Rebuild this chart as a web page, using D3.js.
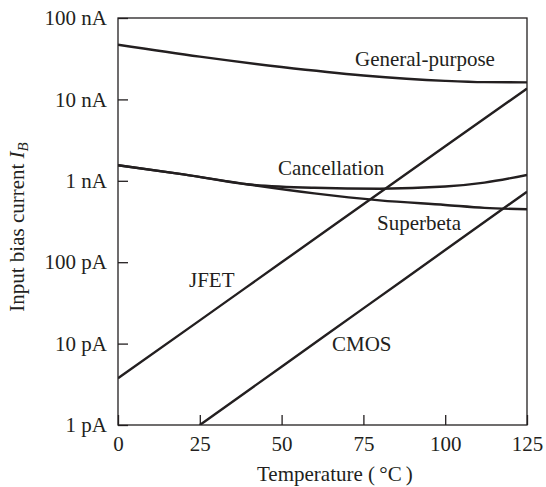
<!DOCTYPE html>
<html>
<head>
<meta charset="utf-8">
<script src="https://cdn.jsdelivr.net/npm/d3@7"></script>
<style>
  html, body { margin: 0; padding: 0; background: #fff; }
  svg { display: block; }
  text { font-family: "Liberation Serif", "DejaVu Serif", serif; fill: #231f20; }
</style>
</head>
<body>
<svg id="chart" width="546" height="487"></svg>
<script>
// ---- data (currents in nA, temperatures in °C) ----
const xTicks = [0, 25, 50, 75, 100, 125];
const yTicks = [0.001, 0.01, 0.1, 1, 10, 100];
const yTickLabels = ["1 pA", "10 pA", "100 pA", "1 nA", "10 nA", "100 nA"];

const gpTemp = [0, 25, 50, 75, 100, 112, 125];
const gpVals = [47, 33.5, 25, 19.7, 16.9, 16.3, 16.2];

const cancTemp = [0, 20, 40, 60, 80, 100, 112, 125];
const cancVals = [1.55, 1.2, 0.9, 0.82, 0.80, 0.85, 0.95, 1.18];

const sbTemp = [0, 20, 40, 60, 80, 100, 112, 125];
const sbVals = [1.55, 1.2, 0.9, 0.70, 0.575, 0.505, 0.465, 0.447];

const jfetTemp = [0, 25, 50, 75, 100, 125];
const jfetVals = [0.00375, 0.0193, 0.0997, 0.514, 2.65, 13.6];

const cmosTemp = [25, 50, 75, 100, 125];
const cmosVals = [0.001, 0.0052, 0.0271, 0.141, 0.735];

const seriesNames = ["General-purpose", "Cancellation", "Superbeta", "JFET", "CMOS"];

// ---- layout ----
const L = 118, R = 527, T = 18, B = 425;
const svg = d3.select("#chart");

const x = d3.scaleLinear().domain([0, 125]).range([L, R]);
const y = d3.scaleLog().domain([0.001, 100]).range([B, T]);

// axes
const xAxis = d3.axisBottom(x).tickValues(xTicks).tickSizeInner(-10).tickSizeOuter(0).tickPadding(11);
const yAxis = d3.axisLeft(y).tickValues(yTicks).tickFormat((d, i) => yTickLabels[i])
  .tickSizeInner(-10).tickSizeOuter(0).tickPadding(11);

const gx = svg.append("g").attr("transform", `translate(0,${B})`).call(xAxis);
const gy = svg.append("g").attr("transform", `translate(${L},0)`).call(yAxis);
[gx, gy].forEach(g => {
  g.select(".domain").remove();
  g.selectAll(".tick line").attr("stroke", "#231f20").attr("stroke-width", 1.3);
  g.selectAll(".tick text").attr("font-size", 21).attr("font-family", "Liberation Serif").attr("fill", "#231f20");
});

// frame
svg.append("rect").attr("x", L).attr("y", T).attr("width", R - L).attr("height", B - T)
  .attr("fill", "none").attr("stroke", "#231f20").attr("stroke-width", 1.3);

// clip
svg.append("clipPath").attr("id", "clip").append("rect")
  .attr("x", L).attr("y", T).attr("width", R - L).attr("height", B - T);

const line = d3.line().x(d => x(d[0])).y(d => y(d[1])).curve(d3.curveMonotoneX);
const series = [
  [gpTemp, gpVals], [cancTemp, cancVals], [sbTemp, sbVals], [jfetTemp, jfetVals], [cmosTemp, cmosVals]
];
const gl = svg.append("g").attr("clip-path", "url(#clip)");
series.forEach(([t, v]) => {
  gl.append("path").datum(t.map((d, i) => [d, v[i]]))
    .attr("d", line).attr("fill", "none").attr("stroke", "#231f20").attr("stroke-width", 2.4)
    .attr("stroke-linejoin", "round");
});

// series labels
const labelPos = [[355, 66], [278, 175], [377, 230], [189, 286.5], [332, 350.5]];
seriesNames.forEach((n, i) => {
  svg.append("text").attr("x", labelPos[i][0]).attr("y", labelPos[i][1])
    .attr("font-size", 21).text(n);
});

// axis titles
svg.append("text").attr("x", 257).attr("y", 481).attr("text-anchor", "start")
  .attr("font-size", 21).text("Temperature (\u2009\u00B0C\u2009)");

const yt = svg.append("text").attr("transform", "translate(24,227) rotate(-90)")
  .attr("text-anchor", "middle").attr("font-size", 21);
yt.append("tspan").text("Input bias current ");
yt.append("tspan").attr("font-style", "italic").text("I");
yt.append("tspan").attr("font-style", "italic").attr("font-size", 15).attr("dy", 4).text("B");
</script>
</body>
</html>
